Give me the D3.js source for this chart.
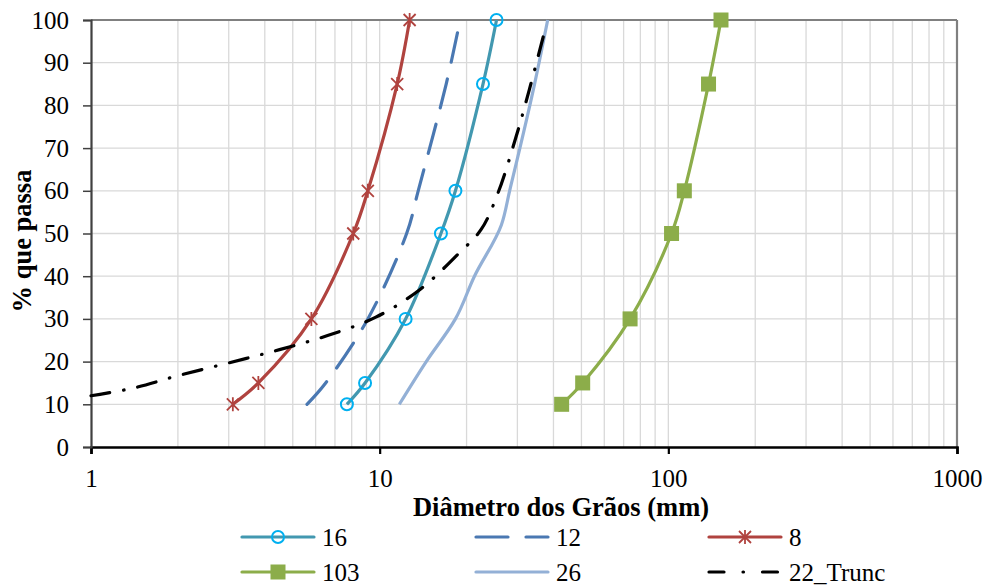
<!DOCTYPE html>
<html>
<head>
<meta charset="utf-8">
<script src="https://cdn.jsdelivr.net/npm/d3@7"></script>
<style>
  body { margin: 0; background: #fff; }
  svg, svg text { font-family: "Liberation Serif", "Times New Roman", serif; }
</style>
</head>
<body>
<svg></svg>
<script>
// Chart data
const pctPassing = [10, 15, 30, 50, 60, 85, 100];
const size16 = [7.7, 8.9, 12.3, 16.3, 18.3, 22.8, 25.4];
const size12 = [5.6, 6.5, 9.1, 12.4, 13.6, 17.0, 19.0];
const size8 = [3.1, 3.8, 5.8, 8.1, 9.1, 11.5, 12.7];
const size103 = [42.7, 50.5, 73.7, 102.6, 113.6, 137.8, 152.2];
const pct26 = [10, 20, 30, 40, 52, 60, 85, 100];
const size26 = [11.7, 14.5, 18.3, 21.3, 26.4, 28.2, 34.4, 38.2];
const trunc22Size = [1.0, 1.4, 2.0, 3.0, 4.5, 6.6, 9.7, 13.8, 18.7, 22.5, 25.7, 29.7, 33.0, 37.5];
const trunc22Pct = [12, 13.8, 16.7, 19.7, 22.8, 26.1, 30.4, 36.9, 45.2, 51, 59.5, 72.7, 83.7, 98];

const xTicks = [1, 10, 100, 1000];
const yTicks = [0, 10, 20, 30, 40, 50, 60, 70, 80, 90, 100];

// Dimensions
const width = 987;
const height = 585;
const margin = { top: 20, right: 30, bottom: 138, left: 91 };
const innerW = width - margin.left - margin.right;
const innerH = height - margin.top - margin.bottom;
const serif = '"Liberation Serif", "Times New Roman", serif';

const svg = d3.select("svg").attr("width", width).attr("height", height);
const g = svg.append("g").attr("transform", `translate(${margin.left},${margin.top})`);

const x = d3.scaleLog().domain([1, 1000]).range([0, innerW]);
const y = d3.scaleLinear().domain([0, 100]).range([innerH, 0]);

// Series definitions
const series = [
  { name: "16", sizes: size16, pct: pctPassing, color: "#4298b0", marker: "circle", dash: null, legendDash: null },
  { name: "12", sizes: size12, pct: pctPassing, color: "#4a78b2", marker: null, dash: "30,17", legendDash: "32,18" },
  { name: "8", sizes: size8, pct: pctPassing, color: "#b0433f", marker: "star", dash: null, legendDash: null },
  { name: "103", sizes: size103, pct: pctPassing, color: "#8cad4a", marker: "square", dash: null, legendDash: null },
  { name: "26", sizes: size26, pct: pct26, color: "#93b0d6", marker: null, dash: null, legendDash: null, monotone: true },
  { name: "22_Trunc", sizes: trunc22Size, pct: trunc22Pct, color: "#000000", marker: null, dash: "19,14,0.5,14", legendDash: "15,19,0.5,19,15" },
];

// Gridlines
const minorX = [];
[1, 10, 100].forEach((dec) => {
  for (let k = 1; k < 10; k++) minorX.push(dec * k);
});
minorX.push(1000);

g.append("g")
  .selectAll("line")
  .data(minorX.filter((d) => d > 1))
  .enter()
  .append("line")
  .attr("x1", (d) => x(d))
  .attr("x2", (d) => x(d))
  .attr("y1", 0)
  .attr("y2", innerH)
  .attr("stroke", "#d9d9d9")
  .attr("stroke-width", 1.3);

g.append("g")
  .selectAll("line")
  .data(yTicks.filter((d) => d > 0))
  .enter()
  .append("line")
  .attr("x1", 0)
  .attr("x2", innerW)
  .attr("y1", (d) => y(d))
  .attr("y2", (d) => y(d))
  .attr("stroke", "#d9d9d9")
  .attr("stroke-width", 1.3);

// Plot border (top and right in gray)
g.append("line")
  .attr("x1", 0).attr("x2", innerW).attr("y1", 0).attr("y2", 0)
  .attr("stroke", "#808080").attr("stroke-width", 2.2);
g.append("line")
  .attr("x1", innerW).attr("x2", innerW).attr("y1", 0).attr("y2", innerH)
  .attr("stroke", "#808080").attr("stroke-width", 2.2);

// Axes
const xAxis = g.append("g")
  .attr("transform", `translate(0,${innerH})`)
  .call(d3.axisBottom(x).tickValues(xTicks).tickFormat(d3.format("d")).tickSize(7).tickPadding(15));
xAxis.attr("font-family", null);
xAxis.select(".domain").attr("stroke", "#000").attr("stroke-width", 2.6);
xAxis.selectAll(".tick line").attr("stroke", "#000").attr("stroke-width", 2.2);
xAxis.selectAll("text").attr("font-size", 25).attr("fill", "#000").style("font-family", serif);

const yAxis = g.append("g")
  .call(d3.axisLeft(y).tickValues(yTicks).tickSize(8).tickPadding(14));
yAxis.attr("font-family", null);
yAxis.select(".domain").attr("stroke", "#404040").attr("stroke-width", 2.2);
yAxis.selectAll(".tick line").attr("stroke", "#404040").attr("stroke-width", 1.5);
yAxis.selectAll("text").attr("font-size", 25).attr("fill", "#000").style("font-family", serif);

// Axis titles
svg.append("text")
  .attr("x", 561)
  .attr("y", 516)
  .attr("text-anchor", "middle")
  .attr("font-weight", "bold")
  .attr("font-size", 26.5)
  .text("Diâmetro dos Grãos (mm)");

svg.append("text")
  .attr("transform", "translate(31,241) rotate(-90)")
  .attr("text-anchor", "middle")
  .attr("font-weight", "bold")
  .attr("font-size", 26.5)
  .text("% que passa");

// Lines
const smoothLine = d3
  .line()
  .x((d) => x(d[0]))
  .y((d) => y(d[1]))
  .curve(d3.curveCatmullRom.alpha(0.5));
const monoLine = d3
  .line()
  .x((d) => x(d[0]))
  .y((d) => y(d[1]))
  .curve(d3.curveMonotoneY);

const plot = g.append("g");
series.forEach((s) => {
  const pts = s.sizes.map((v, i) => [v, s.pct[i]]);
  plot.append("path")
    .datum(pts)
    .attr("d", s.monotone ? monoLine : smoothLine)
    .attr("fill", "none")
    .attr("stroke", s.color)
    .attr("stroke-width", 3.2)
    .attr("stroke-linecap", s.dash ? "round" : "butt")
    .attr("stroke-dasharray", s.dash);
});

// Markers
function drawMarker(sel, type, color, cx, cy) {
  if (type === "circle") {
    sel.append("circle")
      .attr("cx", cx).attr("cy", cy).attr("r", 6)
      .attr("fill", "none").attr("stroke", "#00b0f0").attr("stroke-width", 2);
  } else if (type === "square") {
    sel.append("rect")
      .attr("x", cx - 7.5).attr("y", cy - 7.5).attr("width", 15).attr("height", 15)
      .attr("fill", color);
  } else if (type === "star") {
    const r = 6;
    sel.append("path")
      .attr("d", `M${cx - r},${cy - r}L${cx + r},${cy + r}M${cx - r},${cy + r}L${cx + r},${cy - r}M${cx},${cy - r - 1}L${cx},${cy + r + 1}`)
      .attr("stroke", color).attr("stroke-width", 1.8).attr("fill", "none");
  }
}

series.filter((s) => s.marker).forEach((s) => {
  const mg = plot.append("g");
  s.sizes.forEach((v, i) => drawMarker(mg, s.marker, s.color, x(v), y(s.pct[i])));
});

// Legend
const legendCols = [242, 476, 709];
const legendRows = [537, 572];
const legend = svg.append("g");
series.forEach((s, i) => {
  const lx = legendCols[i % 3];
  const ly = legendRows[Math.floor(i / 3)];
  legend.append("line")
    .attr("x1", lx).attr("x2", lx + 72).attr("y1", ly).attr("y2", ly)
    .attr("stroke", s.color).attr("stroke-width", 3.2)
    .attr("stroke-linecap", "round")
    .attr("stroke-dasharray", s.legendDash);
  if (s.marker) drawMarker(legend, s.marker, s.color, lx + 36, ly);
  legend.append("text")
    .attr("x", lx + 80)
    .attr("y", ly)
    .attr("dy", "0.35em")
    .attr("font-size", 25)
    .text(s.name);
});
</script>
</body>
</html>
